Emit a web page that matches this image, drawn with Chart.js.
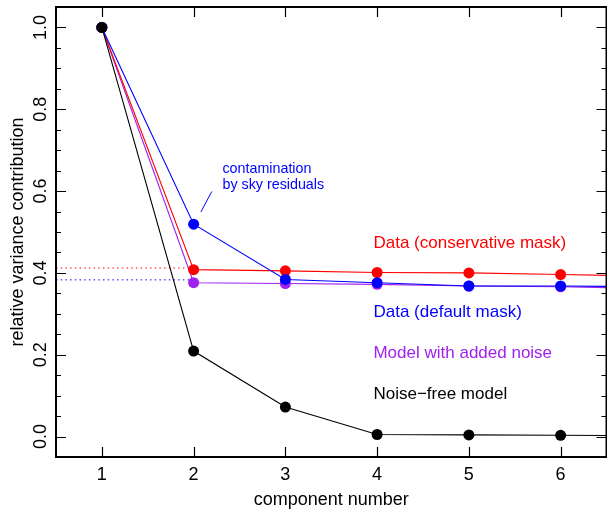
<!DOCTYPE html>
<html>
<head>
<meta charset="utf-8">
<script src="https://cdn.jsdelivr.net/npm/chart.js@4"></script>
<style>
  html, body { margin: 0; padding: 0; background: #fff; overflow: hidden; }
  #wrap { width: 612px; height: 509px; }
</style>
</head>
<body>
<div id="wrap"><canvas id="chart" width="612" height="509"></canvas></div>
<script>
/* -------------------------------
   DATA
--------------------------------*/
const components = [1, 2, 3, 4, 5, 6, 7];
const noiseFree = [1.0, 0.209, 0.072, 0.005, 0.004, 0.003, 0.002];
const dataConservative = [1.0, 0.408, 0.405, 0.401, 0.400, 0.396, 0.392];
const dataDefault = [1.0, 0.519, 0.384, 0.376, 0.368, 0.368, 0.366];
const modelNoise = [1.0, 0.376, 0.374, 0.372, 0.368, 0.366, 0.362];

// dotted extrapolation levels
const fitX = [0.5, 2];
const conservativeFit = [0.412, 0.412];
const defaultFit = [0.383, 0.383];

const xTicks = [1, 2, 3, 4, 5, 6];
const yTicks = [0.0, 0.2, 0.4, 0.6, 0.8, 1.0];
const yTickLabels = ["0.0", "0.2", "0.4", "0.6", "0.8", "1.0"];

const labels = [
  { text: "Data (conservative mask)", x: 3.96, y: 0.472, color: "#ff0000" },
  { text: "Data (default mask)", x: 3.96, y: 0.304, color: "#0000ff" },
  { text: "Model with added noise", x: 3.96, y: 0.204, color: "#a020f0" },
  { text: "Noise\u2212free model", x: 3.96, y: 0.104, color: "#000000" }
];

const FONT = '"Liberation Sans", Arial, Helvetica, sans-serif';

function pts(xs, ys) {
  return xs.map((x, i) => ({ x: x, y: ys[i] }));
}

function series(label, ys, color) {
  return {
    label,
    data: pts(components, ys),
    borderColor: color,
    backgroundColor: color,
    borderWidth: 1.1,
    pointRadius: 5.5,
    pointBorderWidth: 0,
    pointHoverRadius: 5.5,
    tension: 0
  };
}

function dotted(ys, color) {
  return {
    data: pts(fitX, ys),
    borderColor: color,
    borderWidth: 1,
    borderDash: [1.5, 3.2],
    pointRadius: 0,
    tension: 0
  };
}

/* -------------------------------
   FRAME, TICKS, TEXT
--------------------------------*/
const framePlugin = {
  id: "frame",
  afterDraw(chart) {
    const ctx = chart.ctx;
    const a = chart.chartArea;
    const xs = chart.scales.x;
    const ys = chart.scales.y;
    ctx.save();

    // box
    ctx.strokeStyle = "#000";
    ctx.lineWidth = 2;
    ctx.strokeRect(a.left, a.top, a.right - a.left, a.bottom - a.top);

    // x ticks (bottom + top, inward)
    ctx.lineWidth = 1.2;
    ctx.beginPath();
    xTicks.forEach(v => {
      const px = Math.round(xs.getPixelForValue(v)) + 0.5;
      ctx.moveTo(px, a.bottom);
      ctx.lineTo(px, a.bottom - 10);
      ctx.moveTo(px, a.top);
      ctx.lineTo(px, a.top + 10);
    });
    ctx.stroke();

    // y ticks, major and minor (left + right, inward)
    ctx.beginPath();
    for (let k = 0; k <= 20; k++) {
      const v = k * 0.05;
      const py = Math.round(ys.getPixelForValue(v)) + 0.5;
      const len = k % 4 === 0 ? 10 : 5;
      ctx.moveTo(a.left, py);
      ctx.lineTo(a.left + len, py);
      ctx.moveTo(a.right, py);
      ctx.lineTo(a.right - len, py);
    }
    ctx.stroke();

    // tick labels
    ctx.fillStyle = "#000";
    ctx.font = "18px " + FONT;
    ctx.textAlign = "center";
    ctx.textBaseline = "alphabetic";
    xTicks.forEach(v => {
      ctx.fillText(String(v), xs.getPixelForValue(v), 479.5);
    });
    yTicks.forEach((v, i) => {
      ctx.save();
      ctx.translate(46, ys.getPixelForValue(v));
      ctx.rotate(-Math.PI / 2);
      ctx.fillText(yTickLabels[i], 0, 0);
      ctx.restore();
    });

    // axis titles
    ctx.fillText("component number", (a.left + a.right) / 2, 505);
    ctx.save();
    ctx.translate(23, (a.top + a.bottom) / 2);
    ctx.rotate(-Math.PI / 2);
    ctx.fillText("relative variance contribution", 0, 0);
    ctx.restore();

    // series labels
    ctx.font = "17px " + FONT;
    ctx.textAlign = "left";
    ctx.textBaseline = "middle";
    labels.forEach(l => {
      ctx.fillStyle = l.color;
      ctx.fillText(l.text, xs.getPixelForValue(l.x), ys.getPixelForValue(l.y));
    });

    // contamination note
    ctx.fillStyle = "#0000ff";
    ctx.font = "14.3px " + FONT;
    ctx.fillText("contamination", xs.getPixelForValue(2.314), ys.getPixelForValue(0.654));
    ctx.fillText("by sky residuals", xs.getPixelForValue(2.314), ys.getPixelForValue(0.615));
    ctx.strokeStyle = "#0000ff";
    ctx.lineWidth = 1;
    ctx.beginPath();
    ctx.moveTo(xs.getPixelForValue(2.198), ys.getPixelForValue(0.599));
    ctx.lineTo(xs.getPixelForValue(2.079), ys.getPixelForValue(0.549));
    ctx.stroke();

    ctx.restore();
  }
};

/* -------------------------------
   CHART
--------------------------------*/
new Chart(document.getElementById("chart"), {
  type: "line",
  data: {
    datasets: [
      series("Noise-free model", noiseFree, "#000000"),
      series("Data (default mask)", dataDefault, "#0000ff"),
      series("Data (conservative mask)", dataConservative, "#ff0000"),
      series("Model with added noise", modelNoise, "#a020f0"),
      dotted(conservativeFit, "#ff0000"),
      dotted(defaultFit, "#0000ff")
    ]
  },
  options: {
    responsive: false,
    animation: false,
    events: [],
    layout: { padding: { left: 56, top: 7, right: 2.5, bottom: 52 } },
    plugins: { legend: { display: false }, tooltip: { enabled: false } },
    scales: {
      x: { type: "linear", min: 0.5, max: 6.5, display: false },
      y: { type: "linear", min: -0.05, max: 1.05, display: false }
    }
  },
  plugins: [framePlugin]
});
</script>
</body>
</html>
